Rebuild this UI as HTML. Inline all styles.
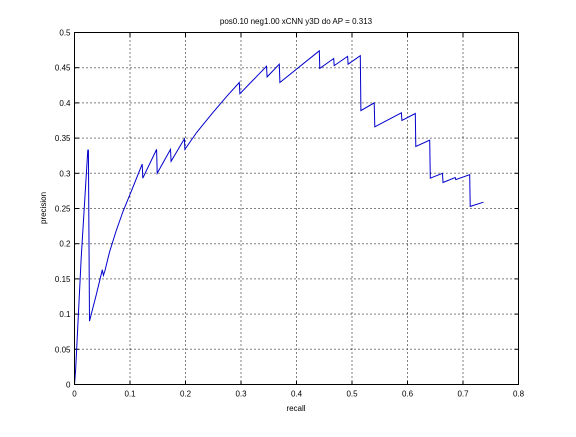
<!DOCTYPE html>
<html><head><meta charset="utf-8"><style>
html,body{margin:0;padding:0;background:#fff}
svg text{font-family:"Liberation Sans",sans-serif;font-size:8px;fill:#000}
</style></head><body>
<svg id="chart" width="576" height="432" viewBox="0 0 576 432" xmlns="http://www.w3.org/2000/svg">
<rect x="0" y="0" width="576" height="432" fill="#fff"/>
<g id="grid"></g>
<g id="ticks"></g>
<polyline id="curve" fill="none" stroke="#0000cc" stroke-width="1"/>
<rect x="74.5" y="32.5" width="444" height="352" fill="none" stroke="#000" stroke-width="1"/>
<text x="296" y="24" text-anchor="middle">pos0.10 neg1.00 xCNN y3D do AP = 0.313</text>
<text x="296" y="411" text-anchor="middle">recall</text>
<text x="0" y="0" text-anchor="middle" transform="translate(46,208) rotate(-90)">precision</text>
</svg>
<script>
const xTicks=[0,0.1,0.2,0.3,0.4,0.5,0.6,0.7,0.8];
const yTicks=[0,0.05,0.1,0.15,0.2,0.25,0.3,0.35,0.4,0.45,0.5];
const xLabels=["0","0.1","0.2","0.3","0.4","0.5","0.6","0.7","0.8"];
const yLabels=["0","0.05","0.1","0.15","0.2","0.25","0.3","0.35","0.4","0.45","0.5"];
const recall=[0,0.002,0.012,0.024,0.025,0.027,0.04,0.05,0.052,0.055,0.063,0.075,0.087,0.1,0.122,0.123,0.148,0.149,0.173,0.174,0.198,0.199,0.22,0.25,0.275,0.297,0.298,0.346,0.347,0.369,0.37,0.441,0.442,0.467,0.468,0.492,0.493,0.515,0.516,0.54,0.541,0.589,0.59,0.614,0.615,0.64,0.641,0.663,0.664,0.686,0.687,0.712,0.713,0.737];
const precision=[0,0.02,0.18,0.333,0.333,0.09,0.13,0.163,0.155,0.162,0.188,0.218,0.245,0.27,0.313,0.293,0.334,0.30,0.334,0.317,0.349,0.334,0.358,0.387,0.41,0.429,0.413,0.452,0.437,0.455,0.429,0.474,0.449,0.463,0.453,0.466,0.455,0.467,0.389,0.40,0.366,0.386,0.375,0.385,0.338,0.347,0.293,0.30,0.287,0.294,0.291,0.298,0.253,0.259];
const L=74.5,R=518.5,T=32.5,B=384.5;
const sx=v=>L+(v-0)/(0.8-0)*(R-L);
const sy=v=>B-(v-0)/(0.5-0)*(B-T);
const NS="http://www.w3.org/2000/svg";
const grid=document.getElementById('grid'),ticks=document.getElementById('ticks');
function mk(tag,attrs,parent){const e=document.createElementNS(NS,tag);for(const k in attrs)e.setAttribute(k,attrs[k]);parent.appendChild(e);return e;}
xTicks.forEach((v,i)=>{const x=sx(v);
 if(i>0&&i<xTicks.length-1){const g=mk('line',{x1:x,y1:T,x2:x,y2:B,stroke:'#000','stroke-dasharray':'1,3','stroke-width':1},grid);
 }
 const t1=mk('line',{x1:x,y1:B,x2:x,y2:B-4,stroke:'#000'},ticks);
 const t2=mk('line',{x1:x,y1:T,x2:x,y2:T+4,stroke:'#000'},ticks);
 const tx=mk('text',{x:x,y:B+12,'text-anchor':'middle'},ticks);tx.textContent=xLabels[i];
 });
yTicks.forEach((v,i)=>{const y=sy(v);
 if(i>0&&i<yTicks.length-1){const g=mk('line',{x1:L,y1:y,x2:R,y2:y,stroke:'#000','stroke-dasharray':'1,3','stroke-width':1},grid);
 }
 const t1=mk('line',{x1:L,y1:y,x2:L+4,y2:y,stroke:'#000'},ticks);
 const t2=mk('line',{x1:R,y1:y,x2:R-4,y2:y,stroke:'#000'},ticks);
 const tx=mk('text',{x:L-4,y:y+3,'text-anchor':'end'},ticks);tx.textContent=yLabels[i];
 });
document.getElementById('curve').setAttribute('points',recall.map((r,i)=>sx(r).toFixed(1)+','+sy(precision[i]).toFixed(1)).join(' '));
</script>
</body></html>
